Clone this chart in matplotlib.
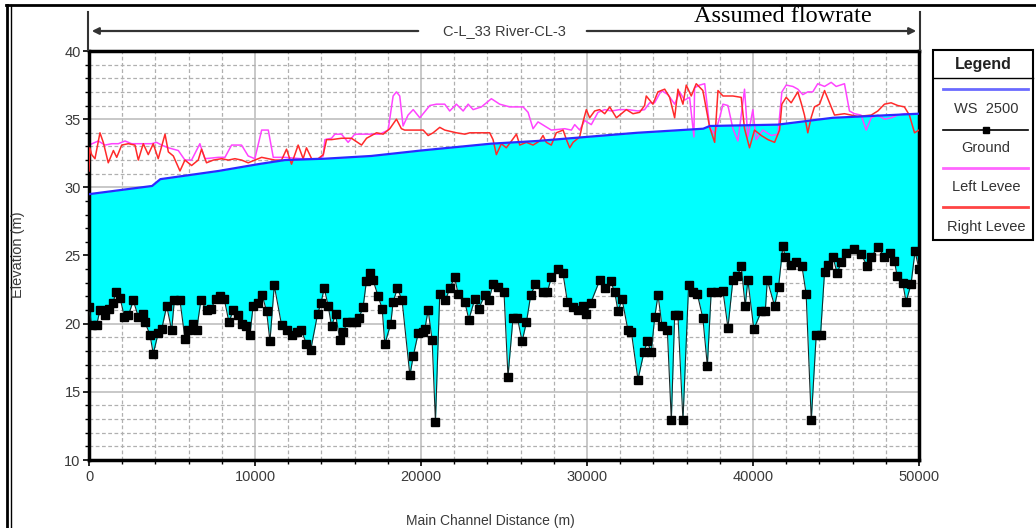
import numpy as np
import matplotlib
matplotlib.use('Agg')
import matplotlib.pyplot as plt
from matplotlib.lines import Line2D
from matplotlib.patches import Rectangle, FancyArrowPatch
from matplotlib.ticker import MultipleLocator

plt.rcParams['font.family'] = ['Liberation Sans', 'DejaVu Sans']

# Water surface profile (WS 2500)
ws_dist = [0, 3800, 4300, 7800, 10200, 11800, 14200, 17000, 20000, 24200, 27000,
           30000, 33000, 37000, 37400, 41500, 44800, 50000]
ws_elev = [29.5, 30.1, 30.6, 31.2, 31.7, 32.0, 32.1, 32.3, 32.7, 33.2, 33.4,
           33.7, 34.0, 34.3, 34.5, 34.6, 35.1, 35.4]

# Ground (channel invert)
ground_dist = [0, 160, 460, 660, 960, 1200, 1450, 1600, 1870, 2130, 2370, 2670, 2970, 3270,
               3370, 3670, 3870, 4170, 4380, 4680, 4980, 5140, 5480, 5780, 5980, 6280, 6480,
               6740, 7080, 7350, 7630, 7890, 8150, 8430, 8690, 8950, 9190, 9430, 9690, 9890,
               10190, 10430, 10700, 10900, 11160, 11600, 11900, 12200, 12500, 12800, 13100,
               13360, 13770, 13970, 14170, 14410, 14610, 14850, 15110, 15310, 15570, 15850,
               16110, 16250, 16510, 16710, 16920, 17110, 17420, 17660, 17820, 18180, 18320,
               18580, 18860, 19330, 19530, 19830, 20130, 20230, 20430, 20670, 20870, 21130,
               21470, 21730, 22030, 22230, 22640, 22880, 23240, 23480, 23840, 24080, 24340,
               24640, 25000, 25240, 25540, 25810, 26090, 26350, 26610, 26890, 27350, 27610,
               27850, 28250, 28550, 28820, 29160, 29460, 29760, 29960, 30220, 30770, 31110,
               31430, 31670, 31870, 32110, 32470, 32670, 33070, 33430, 33630, 33870, 34080,
               34280, 34520, 34840, 35080, 35280, 35480, 35780, 36120, 36380, 36640, 36980,
               37250, 37480, 37850, 38190, 38490, 38790, 39050, 39290, 39530, 39690, 40050,
               40500, 40740, 40860, 41300, 41540, 41800, 41940, 42260, 42600, 42950, 43200,
               43510, 43810, 44070, 44310, 44510, 44810, 45070, 45310, 45620, 46070, 46520,
               46880, 47120, 47520, 47920, 48280, 48520, 48680, 49020, 49220, 49520, 49760,
               50000]
ground_elev = [21.2, 19.9, 19.9, 21.0, 20.6, 21.1, 21.5, 22.3, 21.9, 20.5, 20.6, 21.7, 20.5, 20.7,
               20.1, 19.2, 17.8, 19.3, 19.6, 21.3, 19.5, 21.7, 21.7, 18.9, 19.5, 20.0, 19.5,
               21.7, 21.0, 21.1, 21.8, 22.0, 21.8, 20.1, 21.0, 20.6, 20.0, 19.8, 19.2, 21.3,
               21.5, 22.1, 20.9, 18.7, 22.8, 19.9, 19.5, 19.2, 19.4, 19.5, 18.5,
               18.1, 20.7, 21.5, 22.6, 21.3, 19.8, 20.7, 18.8, 19.4, 20.1, 20.1,
               20.1, 20.4, 21.2, 23.1, 23.7, 23.2, 22.0, 21.1, 18.5, 20.0, 21.6,
               22.6, 21.7, 16.2, 17.6, 19.3, 19.4, 19.6, 21.0, 18.8, 12.8, 22.2,
               21.7, 22.6, 23.4, 22.2, 21.6, 20.3, 21.8, 21.1, 22.1, 21.7, 22.9,
               22.7, 22.3, 16.1, 20.4, 20.4, 18.7, 20.1, 22.1, 22.9, 22.3, 22.3,
               23.4, 24.0, 23.7, 21.6, 21.2, 21.0, 21.3, 20.7, 21.5, 23.2, 22.6,
               23.1, 22.3, 20.9, 21.8, 19.5, 19.4, 15.9, 17.9, 18.7, 17.9, 20.5,
               22.1, 19.8, 19.5, 12.9, 20.6, 20.6, 12.9, 22.8, 22.3, 22.2, 20.4,
               16.9, 22.3, 22.3, 22.4, 19.7, 23.2, 23.5, 24.2, 21.3, 23.2, 19.6,
               20.9, 20.9, 23.2, 21.3, 22.7, 25.7, 24.9, 24.3, 24.5, 24.2, 22.2,
               12.9, 19.2, 19.2, 23.8, 24.3, 24.9, 23.7, 24.5, 25.2, 25.5, 25.1,
               24.2, 24.9, 25.6, 24.9, 25.2, 24.6, 23.5, 23.0, 21.6, 22.9, 25.3,
               24.0]

# Left levee
left_dist = [0, 560, 960, 1370, 1770, 2170, 2570, 2970, 3370, 3770, 4070, 4370, 4780, 5080,
             5380, 5780, 6180, 6680, 6980, 7790, 8190, 8590, 9190, 9590, 9990, 10400, 10800,
             11100, 11800, 12800, 13810, 14110, 14210, 14610, 14810, 15210, 15610, 16010,
             16620, 17220, 17520, 18020, 18320, 18520, 18720, 18920, 19220, 19530, 19930,
             20130, 20530, 20930, 21430, 21730, 22130, 22540, 22840, 23140, 23640, 24240,
             24740, 25340, 26150, 26450, 26750, 27050, 27450, 27850, 28660, 29060, 29260,
             29560, 29860, 30260, 30660, 31070, 31470, 31970, 32470, 33070, 33470, 33770,
             34070, 34480, 34880, 35280, 35580, 35880, 36180, 36440, 36480, 36780, 37090,
             37390, 37690, 37990, 38190, 38490, 38790, 39090, 39490, 39690, 39990, 40190,
             40600, 41100, 41500, 41740, 42000, 42400, 42700, 43000, 43300, 43600, 43900,
             44310, 44710, 45010, 45510, 45810, 46110, 46510, 46820, 47120, 47520, 47920,
             48320, 48720, 49120, 49520, 50000]
left_elev = [33.1, 33.4, 33.1, 33.2, 33.2, 33.4, 33.2, 33.2, 33.2, 33.2, 33.3, 33.1, 32.9, 32.8,
             32.7, 32.0, 32.0, 33.2, 32.1, 32.2, 32.2, 33.1, 33.1, 32.3, 32.1, 34.2, 34.2,
             32.2, 32.2, 32.1, 32.1, 32.3, 33.5, 33.6, 33.9, 33.9, 33.3, 33.9,
             33.9, 33.9, 33.9, 34.2, 36.7, 37.0, 36.7, 34.5, 35.3, 35.7, 35.1,
             35.4, 36.0, 36.1, 36.1, 35.6, 36.1, 35.6, 36.1, 35.7, 35.9, 36.5,
             36.1, 35.9, 35.9, 35.5, 34.3, 34.8, 34.5, 34.2, 34.3, 34.2, 34.6,
             34.2, 34.9, 34.6, 35.5, 35.7, 35.6, 35.7, 35.7, 35.6, 35.7, 36.2,
             36.2, 37.1, 36.8, 36.1, 37.0, 36.4, 36.6, 33.7, 37.3, 37.5, 37.6,
             34.4, 33.9, 35.1, 36.1, 36.0, 34.3, 33.4, 37.2, 33.7, 35.7, 33.5,
             34.2, 33.8, 33.9, 37.0, 37.5, 37.4, 37.2, 36.8, 37.0, 37.0, 37.6,
             37.4, 37.7, 37.4, 37.6, 35.6, 35.4, 35.3, 34.2, 35.1, 35.3, 35.0,
             35.1, 35.3, 35.4, 35.4, 35.4]

# Right levee
right_dist = [0, 50, 160, 360, 660, 860, 1160, 1470, 1670, 1970, 2370, 2770, 2970, 3270, 3570,
              3870, 4170, 4580, 4780, 5080, 5480, 5780, 6180, 6580, 6780, 7080, 7490, 7990,
              8390, 8790, 9190, 9590, 9990, 10400, 10800, 11200, 11600, 11900, 12200, 12600,
              12900, 13100, 13410, 13810, 14110, 14310, 14610, 15210, 15810, 16420, 16720,
              17320, 17720, 18120, 18520, 18820, 19020, 19530, 20130, 20430, 20730, 21130,
              21430, 22130, 22640, 22940, 23540, 24140, 24340, 24540, 24840, 25140, 25450,
              25750, 25950, 26350, 26750, 27150, 27350, 27550, 27850, 28150, 28560, 28760,
              28960, 29160, 29560, 29760, 29960, 30160, 30460, 30760, 31070, 31370, 31770,
              32370, 32770, 33170, 33470, 33570, 33970, 34270, 34680, 34980, 35280, 35480,
              35780, 35980, 36280, 36580, 36980, 37390, 37690, 37890, 38190, 38790, 39290,
              39490, 39790, 40090, 40500, 40900, 41300, 41600, 41740, 42000, 42300, 42700,
              42900, 43100, 43300, 43500, 43700, 44010, 44310, 44610, 44910, 45510, 46310,
              47120, 47520, 47920, 48320, 48720, 49120, 49420, 49730, 50000]
right_elev = [31.2, 32.9, 32.4, 32.1, 34.0, 33.3, 31.8, 32.7, 32.2, 33.1, 33.2, 33.1, 32.0, 33.2,
              32.4, 33.2, 32.1, 33.9, 32.6, 32.3, 31.2, 32.0, 31.6, 32.0, 32.8, 31.8, 32.0,
              32.1, 32.0, 32.1, 32.0, 31.8, 32.0, 32.2, 32.1, 32.0, 32.0, 32.8, 31.7, 33.1,
              32.1, 32.9, 32.1, 32.1, 32.4, 33.5, 33.5, 33.6, 33.6, 33.1, 33.6,
              34.0, 33.9, 34.3, 35.0, 34.3, 34.2, 34.2, 34.2, 33.8, 34.0, 34.4,
              34.2, 34.0, 33.9, 34.0, 34.0, 34.0, 33.5, 32.4, 33.2, 32.9, 33.4,
              33.9, 33.1, 33.3, 33.1, 33.4, 33.8, 33.3, 33.1, 34.0, 34.2, 33.5,
              32.9, 33.3, 33.7, 34.8, 35.7, 35.1, 35.6, 35.7, 35.4, 35.9, 35.1,
              35.7, 35.4, 35.5, 36.0, 36.7, 36.1, 37.0, 37.2, 36.6, 35.1, 37.2,
              36.1, 37.5, 36.7, 37.6, 37.1, 34.4, 33.3, 37.1, 36.7, 36.7, 36.6,
              34.3, 32.9, 34.2, 33.8, 33.5, 33.3, 34.2, 36.1, 36.6, 36.2, 37.0,
              36.2, 35.3, 34.0, 35.1, 35.9, 36.1, 37.1, 36.2, 35.3, 35.4, 35.2,
              35.3, 35.6, 36.1, 36.2, 36.0, 35.9, 35.3, 34.0, 34.2]

legend_labels = ['WS  2500', 'Ground', 'Left Levee', 'Right Levee']

W, H = 1036, 528
fig = plt.figure(figsize=(W / 100, H / 100), dpi=100)
ax = fig.add_axes([89 / W, 1 - 460 / H, 830 / W, 409 / H])


def fx(px):
    return px / W


def fy(py):
    return 1 - py / H


# fill between ground and water surface
xu = np.union1d(ground_dist, ws_dist)
ws_i = np.interp(xu, ws_dist, ws_elev)
g_i = np.interp(xu, ground_dist, ground_elev)
ax.fill_between(xu, g_i, ws_i, color='#00ffff', lw=0, zorder=1)

ax.plot(left_dist, left_elev, color='#ff44ff', lw=1.1, zorder=2)
ax.plot(right_dist, right_elev, color='#ff2a2a', lw=1.1, zorder=3)
ax.plot(ws_dist, ws_elev, color='#2a2aff', lw=1.6, zorder=4)
ax.plot(ground_dist, ground_elev, color='#1a2a2a', lw=0.8, marker='s', ms=5.3,
        mfc='black', mec='black', zorder=5)

ax.set_xlim(0, 50000)
ax.set_ylim(10, 40)
ax.xaxis.set_major_locator(MultipleLocator(10000))
ax.xaxis.set_minor_locator(MultipleLocator(2000))
ax.yaxis.set_major_locator(MultipleLocator(5))
ax.yaxis.set_minor_locator(MultipleLocator(1))
ax.set_axisbelow(True)
ax.grid(which='major', color='#c4c4c4', lw=1.3, ls='-')
ax.grid(which='minor', color='#b0b0b0', lw=0.9, ls=(0, (3, 2)))
for s in ax.spines.values():
    s.set_linewidth(2.5)
ax.tick_params(which='major', length=4, width=1.2, labelsize=10.5,
               labelcolor='#3a3a3a', pad=3)
ax.tick_params(which='minor', length=3, width=1.0)
ax.tick_params(axis='y', pad=2)

# outer frame
fig.add_artist(Line2D([fx(6), fx(1036)], [fy(5), fy(5)], color='black', lw=2))
fig.add_artist(Line2D([fx(7), fx(7)], [fy(5), fy(528)], color='black', lw=2))
fig.add_artist(Line2D([fx(11), fx(11)], [fy(5), fy(528)], color='black', lw=1))

# header arrows
fig.add_artist(Line2D([fx(88), fx(88)], [fy(12), fy(50)], color='#333333', lw=1.5))
fig.add_artist(Line2D([fx(920), fx(920)], [fy(12), fy(50)], color='#333333', lw=1.5))
fig.add_artist(FancyArrowPatch((fx(421), fy(31)), (fx(89), fy(31)), transform=fig.transFigure,
                               arrowstyle='-|>', mutation_scale=10, lw=1.6, color='#333333'))
fig.add_artist(FancyArrowPatch((fx(584), fy(31)), (fx(919), fy(31)), transform=fig.transFigure,
                               arrowstyle='-|>', mutation_scale=10, lw=1.6, color='#333333'))
fig.text(fx(504), fy(31), 'C-L_33 River-CL-3', ha='center', va='center', fontsize=10.5,
         color='#3a3a3a')
fig.text(fx(783), fy(17), 'Assumed flowrate', ha='center', va='center', fontsize=17.5,
         family=['Liberation Serif', 'DejaVu Serif'], color='black')

# axis labels
fig.text(fx(18), fy(255), 'Elevation (m)', rotation=90, ha='center', va='center',
         fontsize=10.5, color='#3a3a3a')
fig.text(fx(490), fy(521), 'Main Channel Distance (m)', ha='center', va='center',
         fontsize=10, color='#3a3a3a')

# legend box
fig.add_artist(Rectangle((fx(933), fy(240)), fx(1033) - fx(933), fy(50) - fy(240),
                         transform=fig.transFigure, fill=False, lw=1.5, ec='black'))
fig.add_artist(Line2D([fx(933), fx(1033)], [fy(78), fy(78)], color='black', lw=1))
fig.text(fx(983), fy(64), 'Legend', ha='center', va='center', fontsize=11.5,
         fontweight='bold', color='#222222')
sample_colors = ['#6a6aff', 'black', '#ff66ff', '#ff4444']
line_y = [89, 130, 168, 207]
text_y = [109, 148, 187, 227]
for i, lab in enumerate(legend_labels):
    fig.add_artist(Line2D([fx(943), fx(1028)], [fy(line_y[i]), fy(line_y[i])],
                          color=sample_colors[i], lw=2 if i != 1 else 1.2))
    if i == 1:
        fig.add_artist(Line2D([fx(986)], [fy(line_y[i])], marker='s', ms=4,
                              color='black', lw=0))
    fig.text(fx(986), fy(text_y[i]), lab, ha='center', va='center', fontsize=10.5,
             color='#333333')

fig.savefig('out.png', dpi=100)
